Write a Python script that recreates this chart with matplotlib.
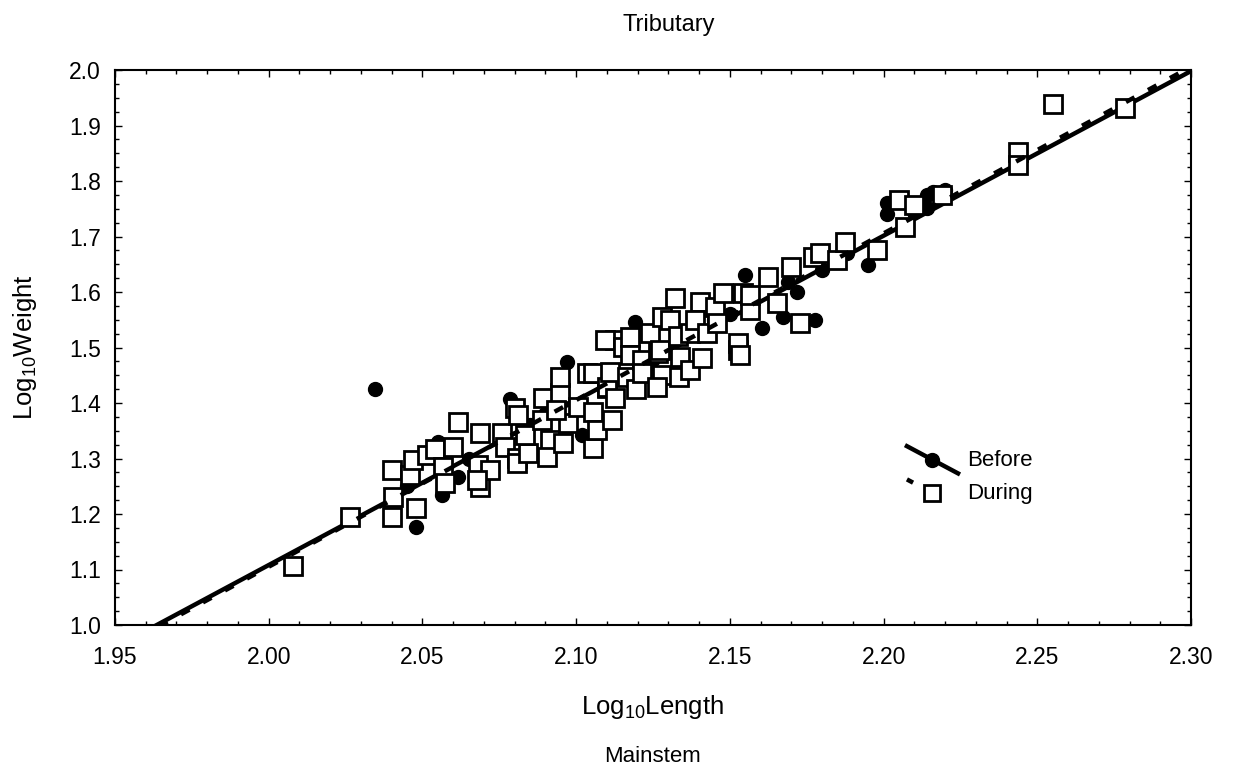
import numpy as np
import matplotlib
matplotlib.use("Agg")
import matplotlib.pyplot as plt
from matplotlib.lines import Line2D
from matplotlib.legend_handler import HandlerLine2D
from matplotlib.ticker import MultipleLocator

plt.rcParams['font.family'] = ['Liberation Sans', 'DejaVu Sans']
plt.rcParams['mathtext.default'] = 'regular'
plt.rcParams['lines.scale_dashes'] = False

# -------- data (log10 length, log10 weight) --------
before_x = [2.0346, 2.0479, 2.0564, 2.0616, 2.0550, 2.0520, 2.0785, 2.0970, 2.1020,
            2.1190, 2.1550, 2.1605, 2.1673, 2.1777, 2.1718, 2.1690, 2.1949, 2.2010,
            2.2010, 2.2140, 2.2160, 2.2200, 2.2140, 2.2100, 2.0450, 2.0650, 2.0850,
            2.0900, 2.1100, 2.1250, 2.1350, 2.1450, 2.1500, 2.1800, 2.1880]
before_y = [1.425, 1.177, 1.234, 1.267, 1.330, 1.310, 1.407, 1.474, 1.342,
            1.546, 1.630, 1.535, 1.555, 1.550, 1.600, 1.618, 1.649, 1.760,
            1.740, 1.775, 1.780, 1.784, 1.752, 1.745, 1.250, 1.300, 1.360,
            1.380, 1.440, 1.480, 1.520, 1.550, 1.560, 1.640, 1.670]

during_x = [2.0080, 2.0265, 2.0400, 2.0404, 2.0400, 2.0480, 2.0460, 2.0470, 2.0515,
            2.0540, 2.0567, 2.0574, 2.0616, 2.0600, 2.0688, 2.0680, 2.0688, 2.0720,
            2.0678, 2.0760, 2.0768, 2.0808, 2.0808, 2.0800, 2.0810, 2.0843, 2.0834,
            2.0892, 2.0890, 2.0915, 2.0905, 2.0948, 2.0948, 2.0974, 2.0957, 2.0935,
            2.1006, 2.1035, 2.1055, 2.1055, 2.1068, 2.1100, 2.1116, 2.1055, 2.1100,
            2.1110, 2.1126, 2.1126, 2.1094, 2.1153, 2.1165, 2.1175, 2.1175, 2.1195,
            2.1214, 2.1214, 2.1240, 2.1266, 2.1273, 2.1280, 2.1263, 2.1280, 2.1305,
            2.1322, 2.1330, 2.1338, 2.1334, 2.1370, 2.1370, 2.1403, 2.1387, 2.1410,
            2.1426, 2.1452, 2.1458, 2.1478, 2.1527, 2.1527, 2.1533, 2.1543, 2.1566,
            2.1566, 2.1624, 2.1653, 2.1700, 2.1728, 2.1770, 2.1793, 2.1848, 2.1875,
            2.1980, 2.2050, 2.2100, 2.2070, 2.2190, 2.2438, 2.2438, 2.2552, 2.2786]
during_y = [1.106, 1.195, 1.279, 1.231, 1.195, 1.211, 1.270, 1.298, 1.306,
            1.318, 1.285, 1.256, 1.366, 1.321, 1.346, 1.288, 1.249, 1.279,
            1.261, 1.346, 1.321, 1.301, 1.292, 1.391, 1.378, 1.310, 1.342,
            1.409, 1.370, 1.333, 1.303, 1.418, 1.447, 1.364, 1.328, 1.388,
            1.393, 1.454, 1.384, 1.319, 1.351, 1.427, 1.369, 1.454, 1.429,
            1.456, 1.409, 1.513, 1.513, 1.501, 1.447, 1.519, 1.486, 1.425,
            1.477, 1.454, 1.526, 1.490, 1.495, 1.450, 1.429, 1.555, 1.550,
            1.589, 1.520, 1.483, 1.446, 1.459, 1.526, 1.582, 1.550, 1.481,
            1.526, 1.573, 1.544, 1.598, 1.495, 1.508, 1.487, 1.598, 1.568,
            1.594, 1.627, 1.580, 1.645, 1.544, 1.663, 1.670, 1.658, 1.690,
            1.675, 1.766, 1.757, 1.717, 1.775, 1.852, 1.829, 1.939, 1.931]

# regression lines: slope, intercept
before_fit = (2.967, -4.826)
during_fit = (3.003, -4.901)


class SlantHandler(HandlerLine2D):
    def create_artists(self, legend, orig_handle, xdescent, ydescent,
                       width, height, fontsize, trans):
        x0 = -xdescent
        x1 = x0 + width
        y0 = height * 1.25
        y1 = -height * 0.5
        line = Line2D([x0, x1], [y0, y1])
        self.update_prop(line, orig_handle, legend)
        line.set_marker('None')
        line.set_transform(trans)
        mk = Line2D([(x0 + x1) / 2], [(y0 + y1) / 2])
        self.update_prop(mk, orig_handle, legend)
        mk.set_linestyle('None')
        mk.set_transform(trans)
        return [line, mk]


fig = plt.figure(figsize=(12.33, 7.82), dpi=100)
ax = fig.add_axes([115 / 1233, 1 - 625 / 782, 1076 / 1233, 555 / 782])

xx = np.array([1.95, 2.30])
ax.plot(xx, before_fit[0] * xx + before_fit[1], color='black', lw=3.2, zorder=1)
ax.plot(before_x, before_y, 'o', color='black', ms=10, zorder=2)
ax.plot(during_x, during_y, 's', mfc='white', mec='black', ms=13, mew=2, zorder=3)
ax.plot(xx, during_fit[0] * xx + during_fit[1], color='black', lw=3.2,
        dashes=(7, 11), zorder=4)

h1 = Line2D([], [], color='black', lw=3.2, marker='o', ms=10)
h2 = Line2D([], [], color='black', lw=3.2, dashes=(5, 40), marker='s',
            mfc='white', mec='black', ms=12, mew=2)
ax.legend([h1, h2], ['Before', 'During'], loc='upper left',
          bbox_to_anchor=(0.736, 0.316), frameon=False, fontsize=16,
          handlelength=2.3, handletextpad=0.4, labelspacing=0.55,
          borderaxespad=0, borderpad=0,
          handler_map={Line2D: SlantHandler()})

ax.set_xlim(1.95, 2.30)
ax.set_ylim(1.0, 2.0)
ax.xaxis.set_major_locator(MultipleLocator(0.05))
ax.xaxis.set_minor_locator(MultipleLocator(0.01))
ax.yaxis.set_major_locator(MultipleLocator(0.1))
ax.yaxis.set_minor_locator(MultipleLocator(0.025))
ax.xaxis.set_major_formatter(plt.FormatStrFormatter('%.2f'))
ax.yaxis.set_major_formatter(plt.FormatStrFormatter('%.1f'))
ax.tick_params(which='both', direction='in', top=True, right=True, width=1,
               labelsize=16.5)
ax.tick_params(which='major', length=5)
ax.tick_params(which='minor', length=3)
ax.tick_params(axis='x', pad=15)
ax.tick_params(axis='y', pad=10)
for s in ax.spines.values():
    s.set_linewidth(1.5)

ax.set_xlabel('Log$_{10}$Length', fontsize=18.5, va='center')
ax.xaxis.set_label_coords(0.5, -0.148)
ax.set_ylabel('Log$_{10}$Weight', fontsize=18.5, va='center')
ax.yaxis.set_label_coords(-0.0836, 0.5)
fig.text(669 / 1233, 1 - 25 / 782, 'Tributary', ha='center', va='center', fontsize=17)
fig.text(653 / 1233, 1 - 757 / 782, 'Mainstem', ha='center', va='center', fontsize=16)

fig.savefig('out.png', dpi=100)
